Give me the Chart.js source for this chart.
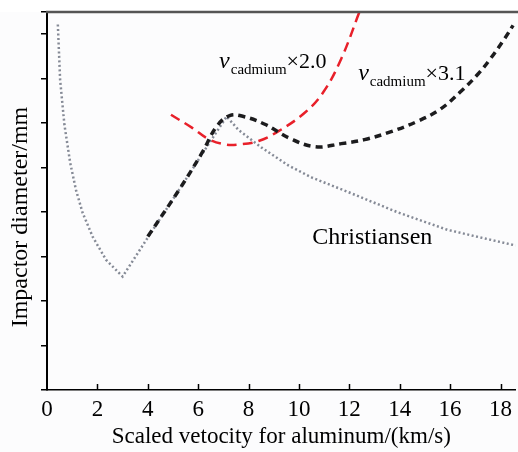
<!DOCTYPE html>
<html>
<head>
<meta charset="utf-8">
<script src="https://cdn.jsdelivr.net/npm/chart.js@4"></script>
<style>
  html, body { margin: 0; padding: 0; background: #ffffff; }
  #wrap { width: 518px; height: 452px; }
</style>
</head>
<body>
<div id="wrap"><canvas id="Chart01" width="518" height="452"></canvas></div>
<script>
/* Data */
const xTicks = [0, 2, 4, 6, 8, 10, 12, 14, 16, 18];

const christX = [0.43, 0.52, 0.69, 0.92, 1.15, 1.41, 1.81, 2.34, 3.0, 4.05, 5.24, 6.15, 7.13, 7.6, 8.52, 9.58, 10.5, 11.96, 13.9, 15.9, 18.6];
const christY = [8.22, 6.98, 5.97, 5.11, 4.50, 3.99, 3.45, 2.93, 2.55, 3.47, 4.50, 5.30, 6.15, 5.85, 5.45, 5.05, 4.78, 4.45, 4.00, 3.60, 3.25];

const cd31X = [4.0, 5.24, 6.15, 6.74, 7.25, 7.8, 8.67, 9.6, 10.65, 11.68, 12.6, 13.66, 14.7, 15.6, 16.4, 17.1, 17.6, 18.16, 18.5];
const cd31Y = [3.45, 4.50, 5.33, 5.93, 6.17, 6.15, 5.97, 5.67, 5.47, 5.54, 5.63, 5.81, 6.04, 6.31, 6.70, 7.10, 7.45, 7.90, 8.20];

const cd20X = [4.92, 5.75, 6.42, 7.09, 7.6, 8.4, 9.19, 10.24, 10.97, 11.68, 12.4];
const cd20Y = [6.19, 5.90, 5.64, 5.52, 5.52, 5.60, 5.82, 6.24, 6.70, 7.45, 8.50];

const serif = "'Liberation Serif', 'Times New Roman', serif";

function pts(xs, ys) {
  return xs.map((x, i) => ({x: x, y: ys[i]}));
}

/* labels, borders, inward ticks */
const extras = {
  id: 'extras',
  beforeDraw(chart) {
    const {ctx, chartArea} = chart;
    ctx.save();
    ctx.fillStyle = '#fcfcfd';
    ctx.fillRect(0, chartArea.top, chart.width, chart.height - chartArea.top);
    ctx.restore();
  },
  afterDraw(chart) {
    const {ctx, chartArea, scales} = chart;
    const xs = scales.x, ys = scales.y;
    ctx.save();
    // top frame line
    ctx.strokeStyle = '#555555';
    ctx.lineWidth = 2.5;
    ctx.beginPath();
    ctx.moveTo(chartArea.left - 1, chartArea.top);
    ctx.lineTo(chart.width, chartArea.top);
    ctx.stroke();
    // inward x ticks
    ctx.strokeStyle = '#000';
    ctx.lineWidth = 1.5;
    xTicks.forEach(v => {
      if (v === 0) return;
      const px = Math.round(xs.getPixelForValue(v)) + 0.5;
      ctx.beginPath();
      ctx.moveTo(px, chartArea.bottom);
      ctx.lineTo(px, chartArea.bottom - 6);
      ctx.stroke();
    });

    // y title
    ctx.fillStyle = '#000';
    ctx.font = '24px ' + serif;
    ctx.textAlign = 'center';
    ctx.textBaseline = 'middle';
    ctx.translate(21, 217);
    ctx.rotate(-Math.PI / 2);
    ctx.fillText('Impactor diameter/mm', 0, 0);
    ctx.setTransform(1, 0, 0, 1, 0, 0);

    // curve labels
    function cadLabel(xv, yv, mult) {
      let px = xs.getPixelForValue(xv);
      const py = ys.getPixelForValue(yv);
      ctx.textAlign = 'left';
      ctx.textBaseline = 'alphabetic';
      ctx.font = 'italic 24px ' + serif;
      ctx.fillText('v', px, py);
      px += ctx.measureText('v').width + 1;
      ctx.font = '15px ' + serif;
      ctx.fillText('cadmium', px, py + 6);
      px += ctx.measureText('cadmium').width;
      ctx.font = '22px ' + serif;
      ctx.fillText('\u00d7' + mult, px, py);
    }
    cadLabel(6.83, 7.25, '2.0');
    cadLabel(12.35, 6.98, '3.1');

    ctx.font = '24px ' + serif;
    ctx.textAlign = 'left';
    ctx.textBaseline = 'middle';
    ctx.fillText('Christiansen', xs.getPixelForValue(10.53), ys.getPixelForValue(3.42));
    ctx.restore();
  }
};

const config01 = {
  type: 'line',
  data: {
    datasets: [{
      label: 'vcadmium x 3.1',
      data: pts(cd31X, cd31Y),
      borderColor: '#1c1c1e',
      borderWidth: 3.5,
      borderDash: [7, 5],
      pointRadius: 0,
      tension: 0.4,
      order: 1
    }, {
      label: 'vcadmium x 2.0',
      data: pts(cd20X, cd20Y),
      borderColor: '#e8202a',
      borderWidth: 2.5,
      borderDash: [10, 6],
      pointRadius: 0,
      tension: 0.4,
      order: 2
    }, {
      label: 'Christiansen',
      data: pts(christX, christY),
      borderColor: '#858a96',
      borderWidth: 2.5,
      borderDash: [2, 2.5],
      pointRadius: 0,
      tension: 0,
      order: 3
    }]
  },
  options: {
    responsive: false,
    animation: false,
    events: [],
    layout: {padding: {top: 12, left: 0, right: 0, bottom: 0}},
    plugins: {legend: {display: false}, tooltip: {enabled: false}},
    scales: {
      x: {
        type: 'linear',
        min: 0, max: 18.6,
        afterFit: s => { s.height = 62; },
        afterBuildTicks: s => { s.ticks = xTicks.map(v => ({value: v})); },
        ticks: {color: '#000', font: {family: serif, size: 23}, padding: 6, maxRotation: 0},
        grid: {display: true, drawOnChartArea: false, drawTicks: false},
        border: {color: '#000', width: 1.5},
        title: {display: true, text: 'Scaled vetocity for aluminum/(km/s)', color: '#000',
                font: {family: serif, size: 23}, padding: {top: 0, bottom: 1}}
      },
      y: {
        type: 'linear',
        min: 0, max: 8.5,
        afterFit: s => { s.width = 47; },
        ticks: {display: false, stepSize: 1},
        grid: {display: true, drawOnChartArea: false, drawTicks: true, tickLength: 6, color: '#000', lineWidth: 1.5},
        border: {color: '#000', width: 2}
      }
    }
  },
  plugins: [extras]
};

const ctxch01 = document.getElementById('Chart01');
new Chart(ctxch01, config01);
</script>
</body>
</html>
